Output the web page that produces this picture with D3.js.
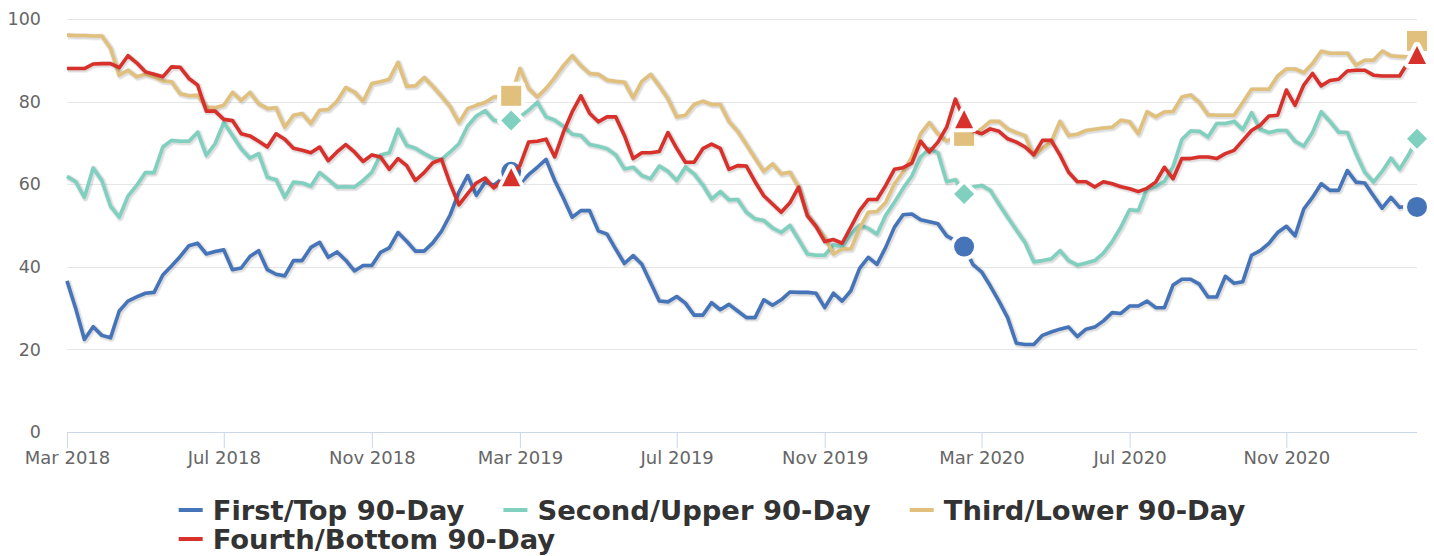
<!DOCTYPE html>
<html>
<head>
<meta charset="utf-8">
<script src="https://cdn.jsdelivr.net/npm/d3@7"></script>
<style>
    body { margin: 0; background: #ffffff; }
    svg { display: block; font-family: "DejaVu Sans", sans-serif; }
</style>
</head>
<body>
<svg id="chart" width="1434" height="556"></svg>
<script>

// weekly readings, one per Friday starting 2 Mar 2018
const startWeek = "2018-03-02";
const yTicks = [0, 20, 40, 60, 80, 100];
const tickMonths = ["Mar", "Jul", "Nov"];
const markerWeeks = [51, 103, 155];

const seriesNames = ["First/Top 90-Day", "Second/Upper 90-Day", "Third/Lower 90-Day", "Fourth/Bottom 90-Day"];
const seriesColors = ["#4674b9", "#80d0c0", "#e0c07c", "#d8302a"];
const markerShapes = ["circle", "diamond", "square", "triangle"];

const firstTop = [
    36.6, 29.9, 22.4, 25.5, 23.4, 22.8, 29.3, 31.7, 32.7, 33.6, 33.8, 38.0, 40.2, 42.5, 45.1, 45.7,
    43.1, 43.7, 44.1, 39.3, 39.7, 42.5, 43.9, 39.3, 38.2, 37.8, 41.5, 41.5, 44.7, 45.9, 42.3, 43.6,
    41.6, 39.0, 40.3, 40.3, 43.5, 44.6, 48.3, 46.2, 43.8, 43.8, 45.8, 48.6, 52.6, 58.1, 62.1, 57.3,
    60.5, 59.7, 61.5, 63.0, 60.1, 62.3, 64.1, 66.0, 60.9, 56.6, 52.0, 53.6, 53.6, 48.7, 47.9, 44.3,
    40.8, 42.7, 40.6, 36.2, 31.7, 31.5, 32.8, 31.2, 28.3, 28.3, 31.3, 29.6, 30.9, 29.3, 27.7, 27.7,
    32.0, 30.7, 32.0, 33.9, 33.8, 33.8, 33.6, 30.1, 33.6, 31.7, 34.2, 39.6, 42.3, 40.6, 44.7, 49.6,
    52.6, 52.8, 51.4, 50.9, 50.4, 47.5, 46.3, 44.9, 40.6, 38.8, 35.4, 31.7, 27.7, 21.5, 21.2, 21.2,
    23.4, 24.2, 24.9, 25.4, 23.1, 24.9, 25.4, 26.9, 28.9, 28.7, 30.5, 30.5, 31.7, 30.1, 30.1, 35.6,
    37.0, 37.0, 35.8, 32.7, 32.7, 37.7, 36.0, 36.4, 42.8, 43.9, 45.7, 48.3, 49.8, 47.5, 54.0, 56.8,
    60.1, 58.5, 58.5, 63.3, 60.5, 60.3, 57.2, 54.2, 56.8, 54.4, 54.6, 54.5
];

const secondUpper = [
    61.9, 60.6, 56.8, 63.9, 60.9, 54.7, 52.0, 57.1, 59.7, 62.8, 62.8, 69.0, 70.6, 70.4, 70.4, 72.6,
    67.0, 69.8, 74.9, 71.8, 68.6, 66.3, 67.4, 61.7, 61.1, 56.8, 60.5, 60.3, 59.5, 62.8, 61.1, 59.3,
    59.4, 59.3, 60.9, 62.9, 67.1, 67.6, 73.3, 69.4, 68.7, 67.4, 66.3, 66.0, 67.8, 69.8, 74.1, 76.5,
    77.8, 75.5, 75.1, 75.4, 76.3, 77.9, 79.8, 76.3, 75.5, 74.0, 72.1, 71.8, 69.6, 69.2, 68.6, 67.1,
    63.7, 64.1, 62.1, 61.3, 64.4, 63.1, 60.9, 64.1, 62.5, 59.8, 56.4, 58.2, 56.2, 56.3, 53.2, 51.6,
    51.2, 49.4, 48.3, 50.0, 46.6, 43.1, 42.8, 42.8, 45.3, 44.9, 47.9, 50.1, 49.3, 47.9, 52.5, 55.6,
    59.0, 62.0, 66.6, 68.6, 67.6, 60.6, 61.1, 57.6, 59.3, 59.7, 58.5, 55.2, 52.0, 48.9, 45.9, 41.2,
    41.5, 41.9, 43.9, 41.5, 40.4, 40.9, 41.5, 43.3, 46.1, 49.6, 53.8, 53.6, 58.9, 59.3, 60.7, 64.3,
    70.8, 72.9, 72.8, 71.4, 74.7, 74.7, 75.2, 73.2, 77.3, 73.3, 72.5, 73.0, 73.0, 70.4, 69.2, 72.5,
    77.5, 75.2, 72.6, 72.5, 67.4, 62.9, 60.5, 63.1, 66.3, 63.6, 67.0, 71.0
];

const thirdLower = [
    96.1, 96.0, 96.0, 95.9, 95.9, 92.9, 86.4, 87.6, 86.0, 86.6, 86.0, 85.0, 84.8, 81.9, 81.4, 81.5,
    78.7, 78.5, 79.1, 82.2, 80.3, 82.2, 79.5, 78.3, 78.5, 73.8, 76.7, 77.1, 74.7, 77.9, 78.1, 80.1,
    83.4, 82.3, 80.1, 84.4, 84.8, 85.4, 89.5, 83.7, 83.8, 85.8, 83.7, 81.3, 78.7, 74.9, 78.3, 79.1,
    79.8, 81.1, 81.3, 81.4, 88.0, 83.2, 81.1, 83.2, 85.8, 88.7, 91.1, 88.7, 86.8, 86.6, 85.2, 84.9,
    84.7, 80.9, 84.9, 86.6, 83.8, 80.7, 76.3, 76.7, 79.3, 80.1, 79.3, 79.3, 75.2, 72.8, 69.6, 66.3,
    63.1, 64.9, 62.5, 62.9, 59.3, 52.6, 49.8, 47.1, 43.1, 44.3, 44.3, 49.3, 53.2, 53.4, 55.6, 60.1,
    63.0, 66.6, 72.2, 74.9, 72.2, 70.4, 71.5, 71.7, 72.2, 73.4, 75.2, 75.2, 73.4, 72.5, 71.7, 67.0,
    68.7, 70.2, 75.2, 71.8, 72.1, 73.0, 73.3, 73.6, 73.8, 75.5, 75.1, 72.2, 77.5, 76.3, 77.5, 77.6,
    81.1, 81.6, 79.8, 76.8, 76.7, 76.7, 76.7, 79.8, 83.0, 83.0, 83.0, 86.2, 87.9, 87.9, 87.0, 89.2,
    92.2, 91.7, 91.7, 91.7, 88.8, 90.0, 90.0, 92.2, 91.1, 90.9, 90.9, 94.7
];

const fourthBottom = [
    88.0, 88.0, 88.0, 89.1, 89.2, 89.2, 88.2, 91.1, 89.4, 87.2, 86.6, 86.0, 88.4, 88.3, 85.6, 84.0,
    77.7, 77.7, 75.7, 75.4, 72.2, 71.7, 70.4, 69.0, 72.2, 70.9, 68.7, 68.2, 67.6, 69.0, 65.7, 67.8,
    69.6, 67.8, 65.5, 67.1, 66.6, 63.6, 66.2, 64.5, 60.9, 62.8, 65.2, 66.0, 60.1, 55.0, 57.7, 60.3,
    61.5, 59.1, 60.9, 61.7, 64.5, 70.2, 70.4, 70.9, 66.6, 72.6, 77.5, 81.4, 77.2, 75.1, 76.3, 76.3,
    71.8, 66.2, 67.6, 67.6, 67.9, 72.5, 68.7, 65.3, 65.3, 68.6, 69.7, 68.7, 63.6, 64.5, 64.4, 60.6,
    57.2, 55.2, 53.2, 55.5, 59.3, 52.4, 49.8, 46.1, 46.6, 45.7, 49.6, 53.6, 56.3, 56.3, 59.7, 63.6,
    64.0, 65.1, 70.4, 67.8, 70.2, 73.8, 80.6, 75.7, 73.0, 72.2, 73.4, 72.8, 71.0, 70.2, 69.0, 67.1,
    70.6, 70.6, 67.1, 62.9, 60.6, 60.6, 59.3, 60.6, 60.1, 59.4, 58.9, 58.2, 59.0, 60.5, 64.1, 61.3,
    66.2, 66.2, 66.6, 66.6, 66.2, 67.4, 68.2, 70.6, 73.0, 74.3, 76.5, 76.7, 82.8, 79.1, 84.0, 86.8,
    83.8, 85.1, 85.4, 87.4, 87.6, 87.6, 86.4, 86.2, 86.2, 86.2, 89.6, 91.3
];

const allSeries = [firstTop, secondUpper, thirdLower, fourthBottom];


const margin = {top: 19, right: 17, bottom: 124, left: 67};
const width = 1434, height = 556;

document.addEventListener('DOMContentLoaded', function() {
    drawChart("#chart");
});


function markerPath(shape, r){
    if(shape === "circle"){
        return `M${-r},0A${r},${r} 0 1,0 ${r},0A${r},${r} 0 1,0 ${-r},0Z`;
    }
    if(shape === "diamond"){
        return `M0,${-r}L${r},0L0,${r}L${-r},0Z`;
    }
    if(shape === "square"){
        return `M${-r},${-r}H${r}V${r}H${-r}Z`;
    }
    // triangle, point up, centred on its box
    return `M0,${-r}L${r},${r}L${-r},${r}Z`;
}


function drawChart(svgSelect){
    const svg = d3.select(svgSelect);
    const plotW = width - margin.left - margin.right;
    const plotH = height - margin.top - margin.bottom;

    const parse = d3.timeParse("%Y-%m-%d");
    const dates = firstTop.map((d, i) => d3.timeDay.offset(parse(startWeek), 7 * i));
    const fmt = d3.timeFormat("%b %Y");

    // ordinal-style time axis: every weekly point gets the same width
    const x = d3.scaleLinear()
        .domain([0, dates.length - 1])
        .range([margin.left, width - margin.right]);

    const y = d3.scaleLinear()
        .domain([0, 100])
        .range([margin.top + plotH, margin.top]);

    // tick on the first week of each labelled month
    const tickIdx = dates.map((d, i) => i).filter(i => {
        const m = d3.timeFormat("%b")(dates[i]);
        return tickMonths.includes(m) && (i === 0 || dates[i - 1].getMonth() !== dates[i].getMonth());
    });

    // grid
    svg.append("g")
        .selectAll("line")
        .data(yTicks.filter(t => t > 0))
        .enter().append("line")
        .attr("x1", margin.left).attr("x2", width - margin.right)
        .attr("y1", d => Math.round(y(d)) + 0.5).attr("y2", d => Math.round(y(d)) + 0.5)
        .attr("stroke", "#e6e6e6").attr("stroke-width", 1);

    // y labels
    const yAxis = svg.append("g")
        .attr("transform", `translate(${margin.left},0)`)
        .call(d3.axisLeft(y).tickValues(yTicks).tickSize(0).tickPadding(26));
    yAxis.select(".domain").remove();
    yAxis.selectAll("text")
        .attr("fill", "#666666")
        .style("font-size", "17.5px")
        .style("font-family", "DejaVu Sans, sans-serif");

    // x axis
    const xAxis = svg.append("g")
        .attr("transform", `translate(0,${margin.top + plotH})`)
        .call(d3.axisBottom(x).tickValues(tickIdx).tickFormat(i => fmt(dates[i])).tickSize(16).tickPadding(3));
    xAxis.select(".domain")
        .attr("stroke", "#ccd6eb")
        .attr("d", `M${margin.left},0.5H${width - margin.right}`);
    xAxis.selectAll(".tick line").attr("stroke", "#ccd6eb");
    xAxis.selectAll("text")
        .attr("fill", "#666666")
        .style("font-size", "18px")
        .style("font-family", "DejaVu Sans, sans-serif");

    const line = d3.line()
        .x((d, i) => x(i))
        .y(d => y(d));

    allSeries.forEach((values, s) => {
        const g = svg.append("g");

        // soft shadow like the source chart
        g.append("path")
            .attr("d", line(values))
            .attr("fill", "none")
            .attr("stroke", "#000")
            .attr("stroke-opacity", 0.06)
            .attr("stroke-width", 7)
            .attr("stroke-linejoin", "round")
            .attr("transform", "translate(1,1)");
        g.append("path")
            .attr("d", line(values))
            .attr("fill", "none")
            .attr("stroke", "#000")
            .attr("stroke-opacity", 0.08)
            .attr("stroke-width", 5)
            .attr("stroke-linejoin", "round")
            .attr("transform", "translate(1,1)");

        g.append("path")
            .attr("d", line(values))
            .attr("fill", "none")
            .attr("stroke", seriesColors[s])
            .attr("stroke-width", 3.6)
            .attr("stroke-linejoin", "round");

        const r = markerShapes[s] === "triangle" ? 9 : 10;
        const marks = g.selectAll(".mark")
            .data(markerWeeks)
            .enter().append("g")
            .attr("class", "mark")
            .attr("transform", i => `translate(${x(i)},${y(values[i])})`);
        marks.append("path")
            .attr("d", markerPath(markerShapes[s], r))
            .attr("fill", "#ffffff")
            .attr("stroke", "#ffffff")
            .attr("stroke-width", 8)
            .attr("stroke-linejoin", "round");
        marks.append("path")
            .attr("d", markerPath(markerShapes[s], r))
            .attr("fill", seriesColors[s]);
    });

    drawLegend(svg);
}


function drawLegend(svg){
    const legend = svg.append("g").attr("class", "legend");
    const rowY = [510, 539];
    const itemGap = 39;
    const symW = 24;
    const textGap = 10;
    const centreX = 712;

    // measure the items first
    const items = seriesNames.map((name, s) => {
        const g = legend.append("g");
        g.append("rect")
            .attr("x", 0).attr("y", -2)
            .attr("width", symW).attr("height", 4)
            .attr("fill", seriesColors[s]);
        const t = g.append("text")
            .attr("x", symW + textGap)
            .attr("dy", "0.36em")
            .attr("fill", "#333333")
            .style("font-size", "27.4px")
            .style("font-weight", "bold")
            .text(name);
        return {g: g, w: symW + textGap + t.node().getComputedTextLength()};
    });

    const maxRow = 1100;
    let rows = [[]];
    let rowW = 0;
    items.forEach(it => {
        const add = (rows[rows.length - 1].length ? itemGap : 0) + it.w;
        if(rowW + add > maxRow && rows[rows.length - 1].length){
            rows.push([]);
            rowW = it.w;
        } else {
            rowW += add;
        }
        rows[rows.length - 1].push(it);
    });

    const firstRowW = d3.sum(rows[0], d => d.w) + itemGap * (rows[0].length - 1);
    const left = centreX - firstRowW / 2;

    rows.forEach((row, r) => {
        let cx = left;
        row.forEach(it => {
            it.g.attr("transform", `translate(${cx},${rowY[r]})`);
            cx += it.w + itemGap;
        });
    });
}

</script>
</body>
</html>
